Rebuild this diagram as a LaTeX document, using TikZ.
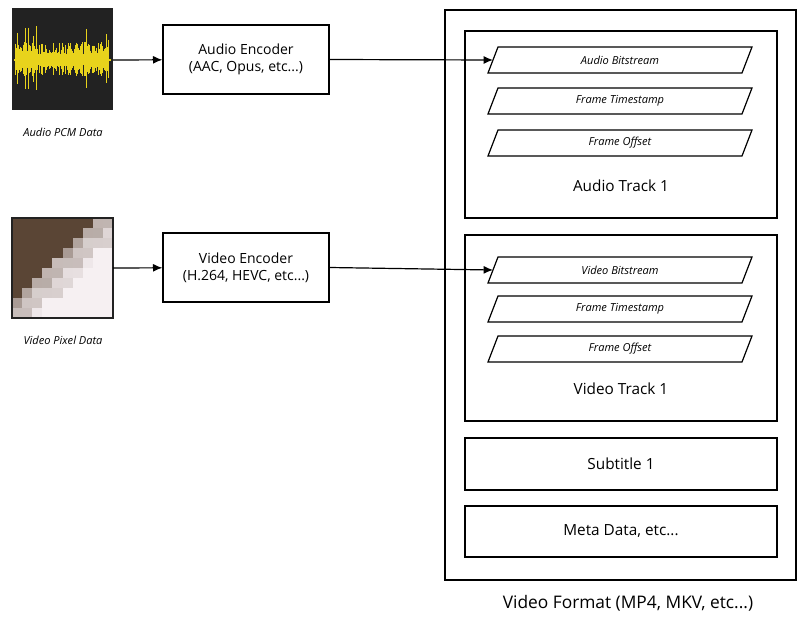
\documentclass[tikz,border=0pt]{standalone}
\usepackage{fontspec}
\setmainfont{Open Sans}
\usetikzlibrary{arrows.meta}
\definecolor{wave}{HTML}{E8D31C}
\definecolor{dark}{HTML}{222222}
\definecolor{brown}{HTML}{5A4535}
\definecolor{pale}{HTML}{F6F0F2}
\begin{document}
\begin{tikzpicture}[x=0.75pt,y=-0.75pt,
  box/.style={draw,line width=1pt,fill=white},
  arr/.style={-{Latex[length=7pt,width=6pt]},line width=0.9pt},
  enc/.style={align=center,font=\fontsize{10.5}{13}\selectfont},
  small/.style={font=\fontsize{8.3}{10}\selectfont\itshape},
  trk/.style={font=\fontsize{11.5}{14}\selectfont}]
\useasboundingbox (0,0) rectangle (811,624);
% audio image
\fill[dark] (12,8) rectangle (113,110);
\pgfmathsetseed{7}
\foreach \i in {0,...,95}{
  \pgfmathsetmacro{\h}{6+12*rnd+ (rnd>0.8 ? 22*rnd : 0)}
  \draw[wave,line width=0.6pt] (15+\i*0.98,60-\h) -- (15+\i*0.98,60+\h*0.9);
}
\draw[wave,line width=2pt] (14,60) -- (111,60);
\node[small] (apcm) at (63,132) {Audio PCM Data};
\coordinate (aimg) at (113,60);
% video image
\foreach \i in {0,...,9}{\foreach \j in {0,...,9}{
  \pgfmathsetmacro{\d}{\i+\j-9}
  \pgfmathsetmacro{\m}{\d< -1 ? 0 : (\d>1 ? 100 : 50+25*\d)}
  \pgfmathsetmacro{\n}{mod(\i*7+\j*3,5)*8}
  \fill[pale!\m!brown] (12+\i*10.1,218+\j*10) rectangle ++(10.2,10.1);
  \ifdim\d pt>-2pt \ifdim\d pt<3pt
  \fill[brown!\n!pale, opacity=0.6] (12+\i*10.1,218+\j*10) rectangle ++(10.2,10.1);
  \fi\fi
}}
\draw[dark,line width=1.2pt] (12,218) rectangle (113,318);
\node[small] (vpix) at (63,340) {Video Pixel Data};
\coordinate (vimg) at (113,268);
% encoders
\node[box,enc,minimum width=166*0.75pt,minimum height=69*0.75pt] (aenc) at (246,59.5) {Audio Encoder\\(AAC, Opus, etc...)};
\node[box,enc,minimum width=166*0.75pt,minimum height=69*0.75pt] (venc) at (246,267.5) {Video Encoder\\(H.264, HEVC, etc...)};
% container
\draw[line width=1pt] (445,10) rectangle (796,580);
\node[font=\fontsize{13}{15}\selectfont] (fmt) at (628,603) {Video Format (MP4, MKV, etc...)};
\draw[line width=1pt] (465,31) rectangle (777,218);
\draw[line width=1pt] (465,235) rectangle (777,421);
\node[box,trk,minimum width=312*0.75pt,minimum height=52*0.75pt] (sub) at (621,464) {Subtitle 1};
\node[box,trk,minimum width=312*0.75pt,minimum height=51*0.75pt] (meta) at (621,531.5) {Meta Data, etc...};
\node[trk] (atr) at (621,186) {Audio Track 1};
\node[trk] (vtr) at (621,389) {Video Track 1};
\foreach \y/\t/\n in {47/Audio Bitstream/ab,88/Frame Timestamp/at,130/Frame Offset/ao,257/Video Bitstream/vb,296/Frame Timestamp/vt,336/Frame Offset/vo}{
  \draw[line width=0.9pt] (498,\y) -- (752,\y) -- (742,\y+26) -- (488,\y+26) -- cycle;
  \node[small] (\n) at (620,\y+13) {\t};
  \coordinate (\n L) at (493,\y+13);
}
\draw[arr] (aimg) -- (aenc);
\draw[arr] (vimg) -- (venc);
\draw[arr] (aenc.east) -- (abL);
\draw[arr] (venc.east) -- (vbL);
\end{tikzpicture}
\end{document}
